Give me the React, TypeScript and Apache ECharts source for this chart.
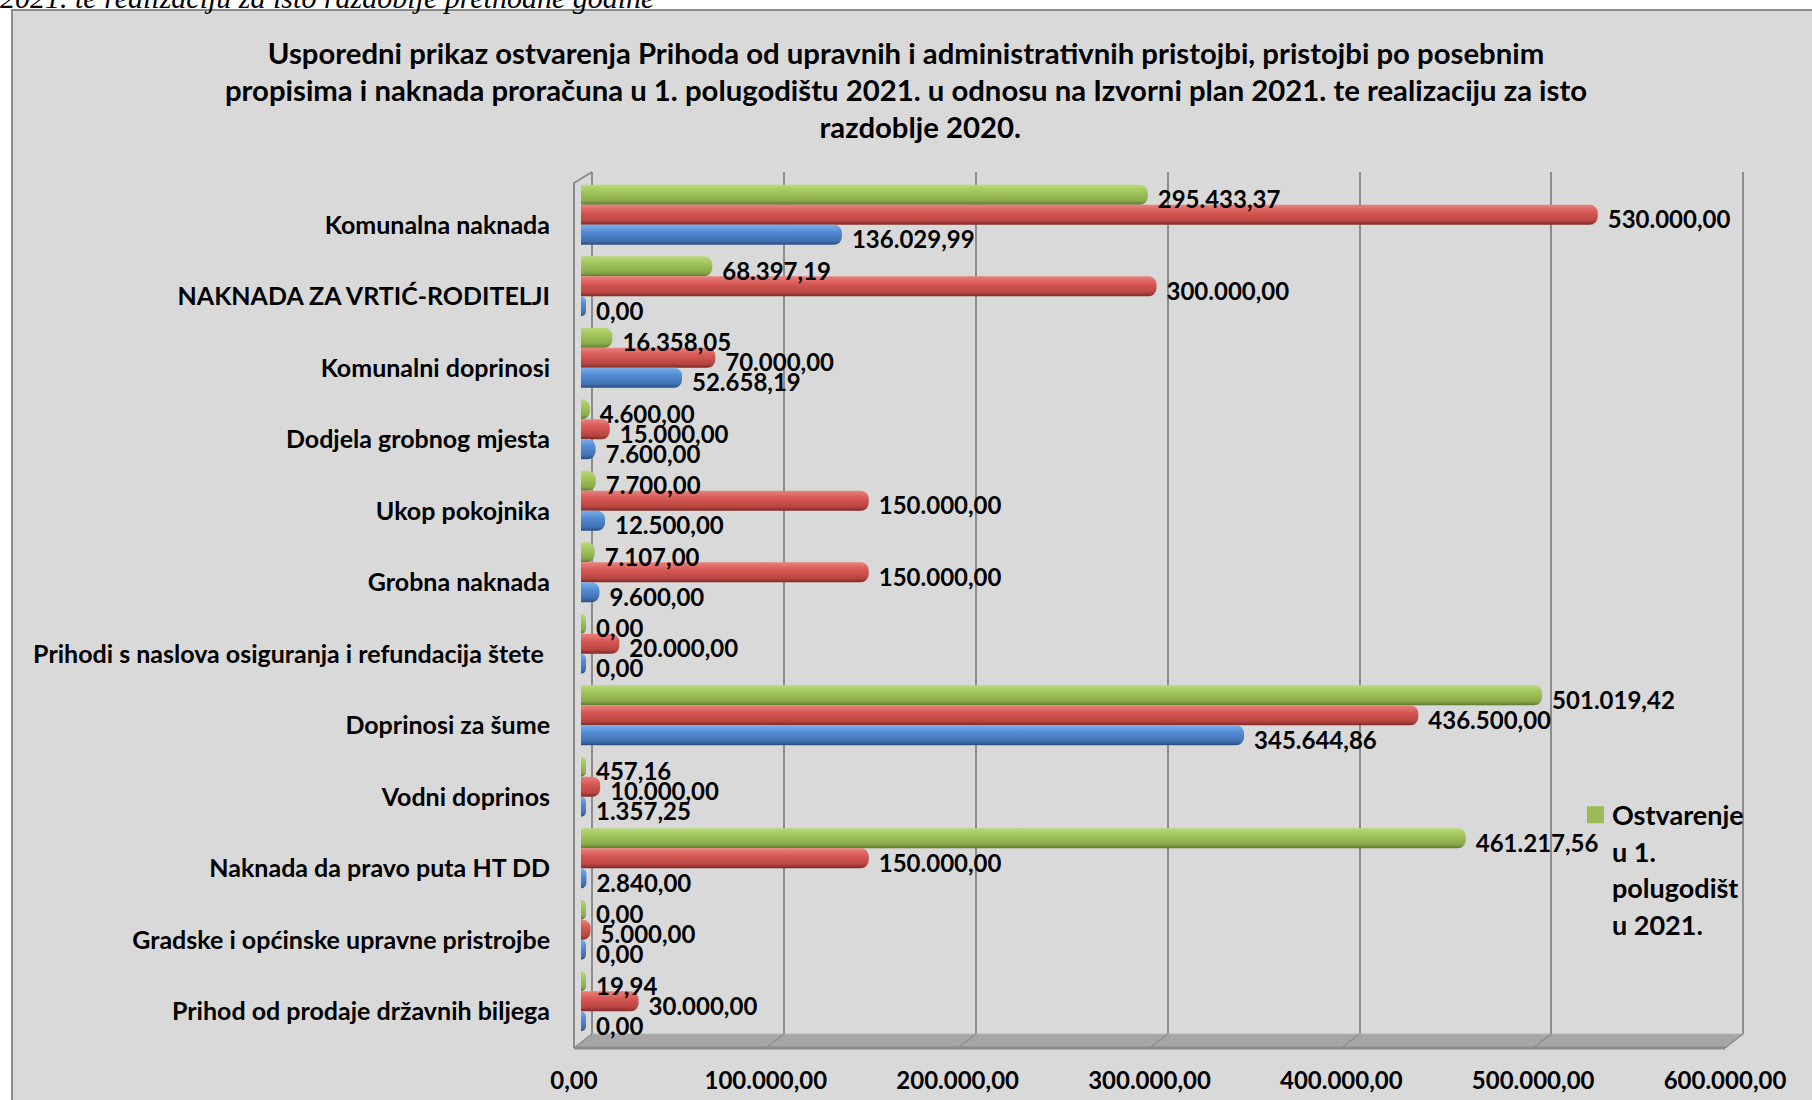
import React, { useEffect, useRef } from 'react';
import * as echarts from 'echarts';

const categories = [
  'Komunalna naknada',
  'NAKNADA ZA VRTIĆ-RODITELJI',
  'Komunalni doprinosi',
  'Dodjela grobnog mjesta',
  'Ukop pokojnika',
  'Grobna naknada',
  'Prihodi s naslova osiguranja i refundacija štete ',
  'Doprinosi za šume',
  'Vodni doprinos',
  'Naknada da pravo puta HT DD',
  'Gradske i općinske upravne pristrojbe',
  'Prihod od prodaje državnih biljega',
];

const realized2021 = [295433.37, 68397.19, 16358.05, 4600.0, 7700.0, 7107.0, 0, 501019.42, 457.16, 461217.56, 0, 19.94];
const plan2021 = [530000, 300000, 70000, 15000, 150000, 150000, 20000, 436500, 10000, 150000, 5000, 30000];
const realized2020 = [136029.99, 0, 52658.19, 7600, 12500, 9600, 0, 345644.86, 1357.25, 2840, 0, 0];

const axisMin = 0;
const axisMax = 600000;
const axisStep = 100000;

const seriesNames = [
  'Ostvarenje u 1. polugodištu 2021.',
  'Izvorni plan 2021.',
  'Ostvarenje u 1. polugodištu 2020.',
];

const titleText =
  'Usporedni prikaz ostvarenja Prihoda od upravnih i administrativnih pristojbi, pristojbi po posebnim\n' +
  'propisima i naknada proračuna u 1. polugodištu 2021. u odnosu na Izvorni plan 2021. te realizaciju za isto\n' +
  '    razdoblje 2020.';

const FONT = 'Lato, "Noto Sans", sans-serif';

function fmt(v: number): string {
  const [i, d] = v.toFixed(2).split('.');
  return i.replace(/\B(?=(\d{3})+(?!\d))/g, '.') + ',' + d;
}

function grad(stops: string[]) {
  return new echarts.graphic.LinearGradient(0, 0, 0, 1, [
    { offset: 0, color: stops[0] },
    { offset: 0.35, color: stops[1] },
    { offset: 0.8, color: stops[2] },
    { offset: 1, color: stops[3] },
  ]);
}

export default function App() {
  const ref = useRef<HTMLDivElement>(null);
  useEffect(() => {
    document.body.style.margin = '0';
    const chart = echarts.init(ref.current!, null, { renderer: 'svg' });

    // layout (decoration geometry)
    const backL = 592, backR = 1743, backTop = 172, floorBack = 1034, floorFront = 1048, depth = 18;
    const barL = 581, barW = 1151;
    const stepPx = (backR - backL) / ((axisMax - axisMin) / axisStep);

    const floorLines: any[] = [];
    for (let k = 0; k <= (axisMax - axisMin) / axisStep; k++) {
      const bx = backL + k * stepPx;
      floorLines.push({
        type: 'line',
        z: 1,
        shape: { x1: bx, y1: floorBack, x2: bx - depth, y2: floorFront },
        style: { stroke: '#8C8C8C', lineWidth: 1.5 },
      });
    }

    const labelStyle = {
      show: true,
      position: 'right',
      distance: 10,
      offset: [0, 4],
      formatter: (p: any) => fmt(p.value),
      fontFamily: FONT,
      fontWeight: 'bold',
      fontSize: 24,
      color: '#000',
    };

    const mkSeries = (name: string, data: number[], stops: string[]) => ({
      type: 'bar',
      name,
      xAxisIndex: 0,
      yAxisIndex: 0,
      data,
      barWidth: 20,
      barGap: '0%',
      barMinHeight: 5,
      itemStyle: { color: grad(stops), borderRadius: [0, 8, 8, 0] },
      label: labelStyle,
    });

    const option: any = {
      animation: false,
      backgroundColor: '#D9D9D9',
      title: {
        text: titleText,
        left: 'center',
        top: 34,
        padding: 0,
        textStyle: {
          fontFamily: FONT,
          fontWeight: 'bold',
          fontSize: 29.3,
          lineHeight: 37,
          color: '#000',
        },
      },
      legend: {
        data: [{ name: seriesNames[0], itemStyle: { color: '#9BBB59' } }],
        left: 1587,
        top: 687,
        padding: 0,
        icon: 'rect',
        itemWidth: 17,
        itemHeight: 17,
        formatter: () => '\n\n\nOstvarenje\nu 1.\npolugodišt\nu 2021.',
        textStyle: {
          fontFamily: FONT,
          fontWeight: 'bold',
          fontSize: 27,
          lineHeight: 36.5,
          color: '#000',
          padding: [0, 0, 0, 3],
        },
      },
      grid: [
        { left: barL, width: barW, top: 179, bottom: 63, containLabel: false },
        { left: backL, right: 1812 - backR, top: backTop, bottom: 1100 - floorBack, containLabel: false },
      ],
      xAxis: [
        {
          type: 'value',
          gridIndex: 0,
          min: axisMin,
          max: axisMax,
          interval: axisStep,
          axisLine: { show: false },
          axisTick: { show: false },
          splitLine: { show: false },
          axisLabel: {
            formatter: (v: number) => fmt(v),
            margin: 30,
            padding: [0, 14, 0, 0],
            fontFamily: FONT,
            fontWeight: 'bold',
            fontSize: 24,
            color: '#000',
          },
        },
        {
          type: 'value',
          gridIndex: 1,
          min: axisMin,
          max: axisMax,
          interval: axisStep,
          axisLine: { show: false },
          axisTick: { show: false },
          axisLabel: { show: false },
          splitLine: { show: true, lineStyle: { color: '#8C8C8C', width: 2 } },
        },
      ],
      yAxis: [
        {
          type: 'category',
          gridIndex: 0,
          inverse: true,
          data: categories,
          axisLine: { show: false },
          axisTick: { show: false },
          axisLabel: {
            margin: 31,
            verticalAlign: 'top',
            lineHeight: 18,
            fontFamily: FONT,
            fontWeight: 'bold',
            fontSize: 25,
            color: '#000',
          },
        },
        {
          type: 'value',
          gridIndex: 1,
          min: 0,
          max: 1,
          show: false,
        },
      ],
      series: [
        mkSeries(seriesNames[0], realized2021, ['#B9D97A', '#A2C65C', '#8AAA4B', '#5E7A2E']),
        mkSeries(seriesNames[1], plan2021, ['#E8827E', '#D95A55', '#B94541', '#7E2A28']),
        mkSeries(seriesNames[2], realized2020, ['#7CAEE8', '#548DD6', '#4172B2', '#2A4F80']),
      ],
      graphic: [
        {
          type: 'polygon',
          z: 1,
          shape: {
            points: [
              [backL, floorBack],
              [backR, floorBack],
              [backR - depth, floorFront],
              [backL - depth, floorFront],
            ],
          },
          style: { fill: '#A6A6A6', stroke: '#B4B4B4', lineWidth: 1 },
        },
        {
          type: 'line',
          z: 1,
          shape: { x1: backL - depth, y1: floorFront, x2: backR - depth, y2: floorFront },
          style: { stroke: '#8C8C8C', lineWidth: 3 },
        },
        ...floorLines,
        {
          type: 'polyline',
          z: 1,
          shape: { points: [[backL, backTop], [backL - depth, backTop + 11], [backL - depth, floorFront]] },
          style: { stroke: '#8C8C8C', lineWidth: 2, fill: 'none' },
        },
        {
          type: 'rect',
          z: 100,
          shape: { x: 0, y: 0, width: 1812, height: 10 },
          style: { fill: '#FFFFFF' },
        },
        {
          type: 'rect',
          z: 100,
          shape: { x: 0, y: 0, width: 12, height: 1100 },
          style: { fill: '#FFFFFF' },
        },
        {
          type: 'polyline',
          z: 101,
          shape: { points: [[12, 1100], [12, 10], [1812, 10]] },
          style: { stroke: '#8C8C8C', lineWidth: 2, fill: 'none' },
        },
        {
          type: 'text',
          z: 102,
          x: 0,
          y: 12,
          style: {
            text: '2021. te realizaciju za isto razdoblje prethodne godine',
            fontFamily: '"Liberation Serif", serif',
            fontStyle: 'italic',
            fontSize: 30,
            fill: '#000',
            verticalAlign: 'bottom',
          },
        },
      ],
    };

    chart.setOption(option);
    return () => chart.dispose();
  }, []);
  return <div ref={ref} style={{ width: 1812, height: 1100 }} />;
}
